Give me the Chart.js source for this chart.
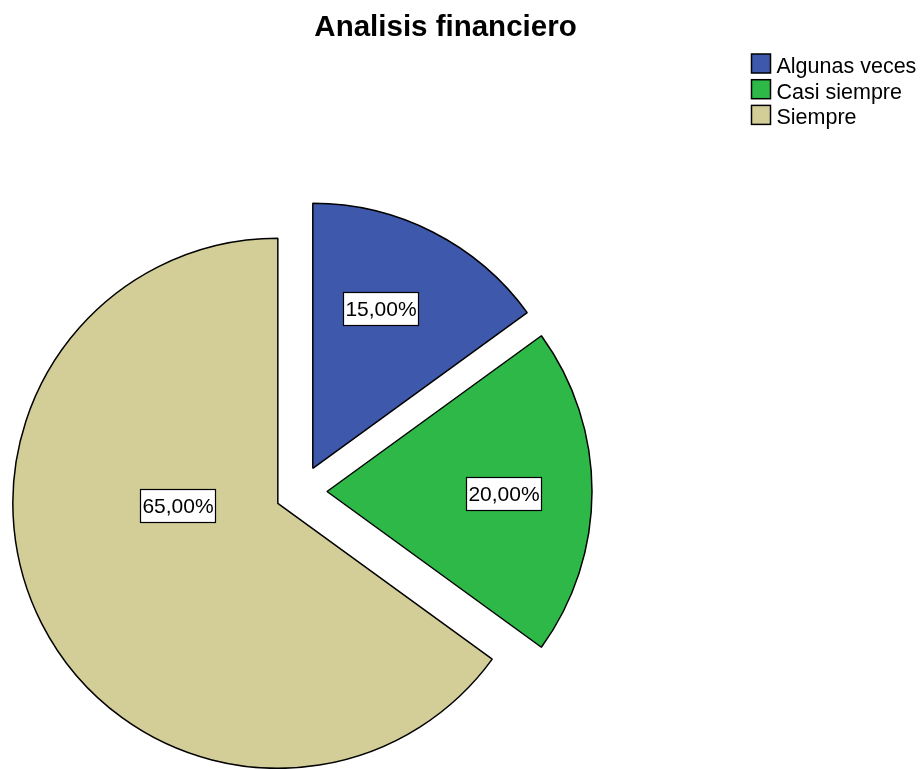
<!DOCTYPE html>
<html>
<head>
<meta charset="utf-8">
<title>Analisis financiero</title>
<script src="https://cdn.jsdelivr.net/npm/chart.js@4.4.0/dist/chart.umd.min.js"></script>
<style>
  html, body { margin: 0; padding: 0; background: #fff; }
  #wrap { width: 921px; height: 769px; }
</style>
</head>
<body>
<div id="wrap"><canvas id="pieChart" width="921" height="769"></canvas></div>
<script>
const chartTitle = 'Analisis financiero';
const categories = ['Algunas veces', 'Casi siempre', 'Siempre'];
const percentages = [15, 20, 65];
const sliceColors = ['#3E58AC', '#2EB848', '#D3CE97'];

const fontFamily = "'Liberation Sans', Arial, sans-serif";
const formatPct = v => v.toFixed(2).replace('.', ',') + '%';

// SPSS style exploded pie: push every arc centre out along its mid angle
const explodePlugin = {
  id: 'explode',
  afterDatasetUpdate: (chart, args, opts) => {
    args.meta.data.forEach(arc => {
      const mid = (arc.startAngle + arc.endAngle) / 2;
      arc.x += Math.cos(mid) * opts.distance;
      arc.y += Math.sin(mid) * opts.distance;
    });
  }
};

// boxed percentage labels
const sliceLabelPlugin = {
  id: 'sliceLabels',
  afterDatasetsDraw: (chart, args, opts) => {
    const ctx = chart.ctx;
    const meta = chart.getDatasetMeta(0);
    ctx.save();
    ctx.font = `${opts.fontSize}px ${fontFamily}`;
    ctx.textAlign = 'center';
    ctx.textBaseline = 'middle';
    meta.data.forEach((arc, i) => {
      const place = opts.place[i];
      const ang = place.angle * Math.PI / 180;
      const dist = arc.outerRadius * place.r;
      const x = arc.x + Math.cos(ang) * dist;
      const y = arc.y + Math.sin(ang) * dist;
      const text = formatPct(percentages[i]);
      const w = Math.round(ctx.measureText(text).width + opts.padX * 2);
      const h = opts.boxHeight;
      const left = Math.round(x - w / 2) + 0.5;
      const top = Math.round(y - h / 2) + 0.5;
      ctx.fillStyle = '#fff';
      ctx.fillRect(left, top, w, h);
      ctx.strokeStyle = '#000';
      ctx.lineWidth = 1.2;
      ctx.strokeRect(left, top, w, h);
      ctx.fillStyle = '#000';
      ctx.fillText(text, left + w / 2, top + h / 2 + 1);
    });
    ctx.restore();
  }
};

// title and legend sit outside the pie area, so they are drawn here
const decorPlugin = {
  id: 'decor',
  afterDraw: (chart, args, opts) => {
    const ctx = chart.ctx;
    ctx.save();
    ctx.fillStyle = '#000';
    ctx.font = `bold 29.5px ${fontFamily}`;
    ctx.textAlign = 'center';
    ctx.textBaseline = 'alphabetic';
    ctx.fillText(chartTitle, opts.titleX, opts.titleY);

    ctx.font = `21.5px ${fontFamily}`;
    ctx.textAlign = 'left';
    categories.forEach((name, i) => {
      const top = opts.legendTop + i * opts.rowHeight;
      ctx.fillStyle = sliceColors[i];
      ctx.fillRect(opts.legendLeft, top, opts.boxSize, opts.boxSize);
      ctx.strokeStyle = '#000';
      ctx.lineWidth = 1.5;
      ctx.strokeRect(opts.legendLeft, top, opts.boxSize, opts.boxSize);
      ctx.fillStyle = '#000';
      ctx.fillText(name, opts.legendLeft + opts.boxSize + 6, top + opts.boxSize);
    });
    ctx.restore();
  }
};

new Chart(document.getElementById('pieChart'), {
  type: 'pie',
  data: {
    labels: categories,
    datasets: [{
      data: percentages,
      backgroundColor: sliceColors,
      borderColor: '#000',
      borderWidth: 1.5,
      hoverOffset: 0
    }]
  },
  options: {
    responsive: false,
    animation: false,
    events: [],
    radius: 265,
    layout: { padding: { left: 0, right: 319, top: 214, bottom: 0 } },
    plugins: {
      legend: { display: false },
      title: { display: false },
      tooltip: { enabled: false },
      explode: { distance: 26 },
      sliceLabels: {
        fontSize: 21,
        padX: 2,
        boxHeight: 33,
        place: [
          { angle: -67, r: 0.656 },
          { angle: 0.6, r: 0.666 },
          { angle: 178.5, r: 0.38 }
        ]
      },
      decor: {
        titleX: 445.5,
        titleY: 36,
        legendLeft: 751.5,
        legendTop: 54,
        rowHeight: 25.7,
        boxSize: 19
      }
    }
  },
  plugins: [explodePlugin, sliceLabelPlugin, decorPlugin]
});
</script>
</body>
</html>
